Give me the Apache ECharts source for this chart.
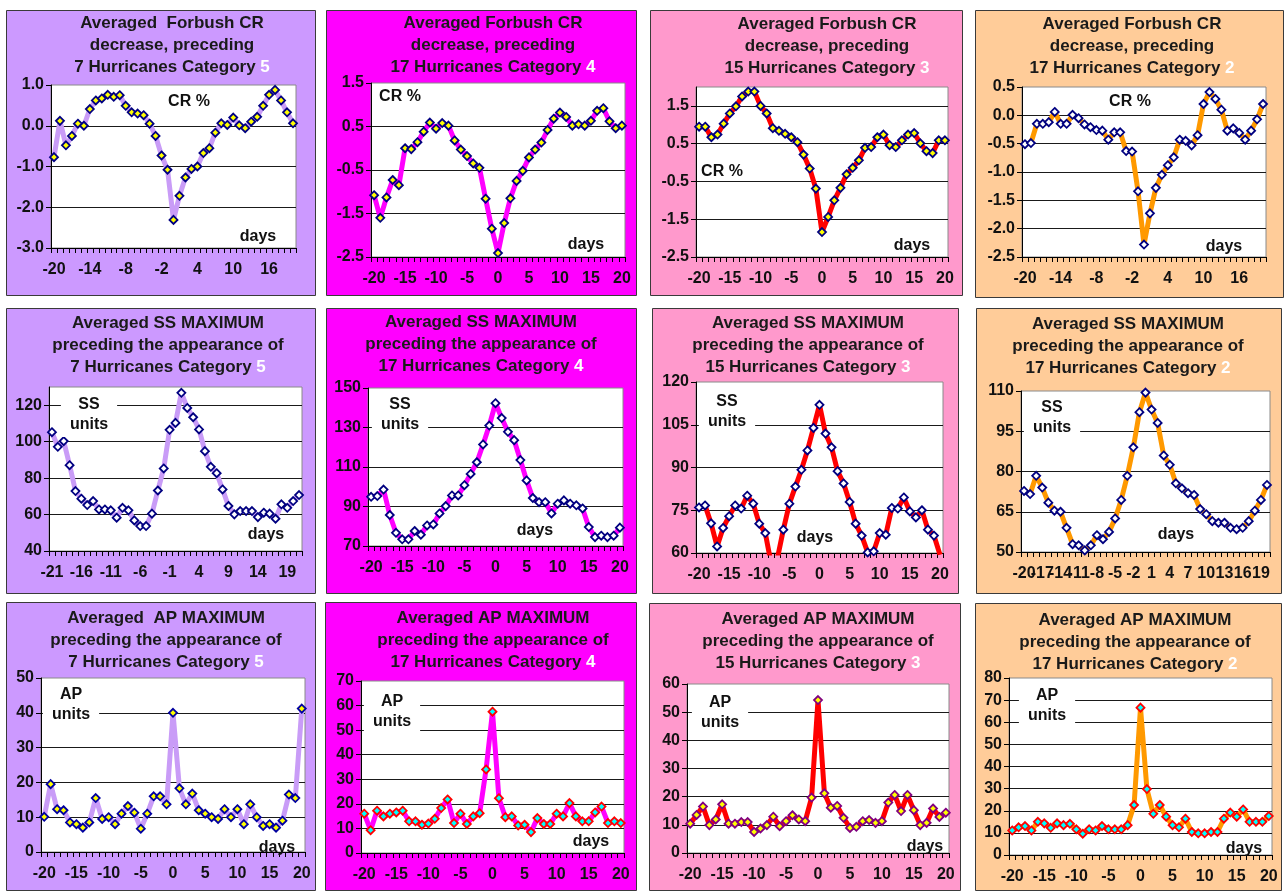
<!DOCTYPE html>
<html>
<head>
<meta charset="utf-8">
<script src="https://cdn.jsdelivr.net/npm/echarts@6/dist/echarts.min.js"></script>
<style>
html, body { margin: 0; padding: 0; background: #ffffff; }
#chart { width: 1285px; height: 893px; }
</style>
</head>
<body>
<div id="chart"></div>
<script>
// Day axes: days relative to hurricane appearance
const daysA = [-20,-19,-18,-17,-16,-15,-14,-13,-12,-11,-10,-9,-8,-7,-6,-5,-4,-3,-2,-1,0,1,2,3,4,5,6,7,8,9,10,11,12,13,14,15,16,17,18,19,20];
const daysB = [-21,-20,-19,-18,-17,-16,-15,-14,-13,-12,-11,-10,-9,-8,-7,-6,-5,-4,-3,-2,-1,0,1,2,3,4,5,6,7,8,9,10,11,12,13,14,15,16,17,18,19,20,21];

// Averaged Forbush CR decrease (%)
const crCat5 = [-0.77,0.12,-0.48,-0.25,0.05,0.0,0.41,0.62,0.67,0.76,0.71,0.75,0.49,0.33,0.30,0.26,0.05,-0.25,-0.73,-1.08,-2.31,-1.72,-1.27,-1.06,-1.0,-0.67,-0.55,-0.17,0.06,0.02,0.2,0.01,-0.06,0.1,0.22,0.49,0.76,0.88,0.62,0.33,0.06];
const crCat4 = [-1.08,-1.60,-1.13,-0.73,-0.85,0.0,-0.02,0.14,0.38,0.59,0.45,0.58,0.52,0.18,-0.03,-0.18,-0.35,-0.45,-1.16,-1.85,-2.41,-1.72,-1.15,-0.75,-0.52,-0.21,-0.03,0.13,0.42,0.68,0.82,0.72,0.52,0.55,0.52,0.63,0.86,0.92,0.62,0.46,0.52];
const crCat3 = [0.95,0.95,0.67,0.74,1.03,1.30,1.49,1.75,1.88,1.88,1.50,1.30,0.91,0.84,0.76,0.67,0.54,0.21,-0.16,-0.69,-1.84,-1.44,-1.0,-0.67,-0.31,-0.14,0.06,0.39,0.41,0.67,0.74,0.46,0.41,0.59,0.74,0.78,0.51,0.30,0.25,0.59,0.59];
const crCat2 = [-0.51,-0.49,-0.15,-0.15,-0.12,0.06,-0.15,-0.15,0.01,-0.05,-0.16,-0.21,-0.26,-0.27,-0.43,-0.30,-0.30,-0.63,-0.64,-1.34,-2.28,-1.73,-1.28,-1.05,-0.88,-0.74,-0.43,-0.45,-0.53,-0.35,0.2,0.41,0.29,0.1,-0.27,-0.23,-0.31,-0.43,-0.27,-0.07,0.2];

// Averaged SS maximum (SS units)
const ssCat5 = [105.2,97.2,100.3,87.1,72.9,68.7,65.2,67.4,62.8,62.8,62.3,58.3,63.7,62.3,56.8,53.7,53.7,60.5,73.2,85.3,106.5,110.3,126.8,118.5,113.4,106.7,94.8,86.2,82.7,73.8,64.7,60.1,61.9,61.9,61.9,58.6,61.0,60.5,57.7,65.6,63.7,67.4,70.7];
const ssCat4 = [94.9,95.3,98.6,85.7,76.7,73.4,73.4,77.6,75.7,80.4,80.9,86.5,90.2,95.6,95.6,100.8,106.5,112.4,121.4,131.0,142.3,134.8,127.8,123.6,113.5,103.2,94.3,92.2,92.2,86.5,91.4,93.1,91.4,90.6,89.0,79.6,74.5,75.2,74.5,75.2,79.3];
const ssCat3 = [76.0,76.7,70.4,62.3,68.8,72.9,76.7,75.6,80.1,77.3,70.3,67.0,56.0,58.0,68.2,77.3,83.3,89.2,96.0,103.9,112.0,101.9,97.1,88.7,84.4,77.9,70.3,66.1,60.2,60.6,67.0,66.4,75.8,75.6,79.5,74.6,72.5,75.0,68.2,66.1,59.4];
const ssCat2 = [72.75,71.6,78.4,74.0,68.4,65.4,65.0,59.0,52.9,52.5,50.6,52.5,56.25,54.75,57.5,62.5,69.4,78.4,89.0,102.1,109.4,103.1,98.1,86.0,82.5,75.6,73.75,71.9,71.25,66.0,64.1,61.5,60.9,60.9,59.0,58.5,59.0,61.5,65.4,69.4,75.0];

// Averaged AP maximum (AP units)
const apCat5 = [10.1,19.5,12.3,12.0,8.5,8.0,7.0,8.5,15.5,9.5,10.0,8.0,11.0,13.2,11.3,6.7,11.0,16.0,16.0,13.7,40.0,18.3,13.7,16.8,12.0,11.0,10.0,9.5,12.3,10.0,12.3,8.0,13.7,10.0,7.5,8.0,7.0,9.0,16.5,15.5,41.2];
const apCat4 = [16.0,9.3,17.2,14.9,16.0,16.5,17.2,12.9,12.9,11.5,12.0,13.9,18.3,21.8,12.2,16.0,11.8,14.9,16.2,34.0,57.5,22.3,14.6,14.9,11.2,11.5,8.5,14.2,11.8,11.8,16.0,14.9,20.3,14.9,12.9,12.9,16.5,18.9,12.2,12.9,12.2];
const apCat3 = [10.4,13.5,16.5,9.9,11.9,17.3,10.4,10.4,11.0,11.0,7.5,8.7,9.9,12.9,9.5,11.3,13.4,11.9,11.3,19.7,54.3,21.2,16.1,16.7,12.5,8.9,9.3,11.3,11.7,10.7,11.3,17.9,20.6,14.9,20.6,15.2,9.9,10.7,15.8,12.8,14.3];
const apCat2 = [11.1,12.5,13.1,11.1,15.0,14.3,12.3,14.3,13.5,14.1,11.6,9.6,11.6,11.1,13.1,11.6,11.6,11.6,13.5,22.6,66.6,29.8,18.6,22.6,17.3,13.5,12.5,16.4,10.4,9.8,9.8,10.4,10.4,16.4,19.2,17.3,20.6,15.0,15.0,15.0,17.6];

// Value-axis ranges: [min, max, interval, decimals]
const crCat5Axis = [-3, 1, 1, 1];
const crCat4Axis = [-2.5, 1.5, 1, 1];
const crCat3Axis = [-2.5, 2, 1, 1];
const crCat2Axis = [-2.5, 0.5, 0.5, 1];
const ssCat5Axis = [40, 130, 20, 0];
const ssCat4Axis = [70, 150, 20, 0];
const ssCat3Axis = [60, 120, 15, 0];
const ssCat2Axis = [50, 110, 15, 0];
const apCat5Axis = [0, 50, 10, 0];
const apCat4Axis = [0, 70, 10, 0];
const apCat3Axis = [0, 60, 10, 0];
const apCat2Axis = [0, 80, 10, 0];

// Titles
const crTitle = ['Averaged Forbush CR', 'decrease, preceding'];
const ssTitle = ['Averaged SS MAXIMUM', 'preceding the appearance of'];
const apTitle = ['Averaged AP MAXIMUM', 'preceding the appearance of'];
const hurricanes = ['7 Hurricanes Category ', '17 Hurricanes Category ', '15 Hurricanes Category ', '17 Hurricanes Category '];
const categories = ['5', '4', '3', '2'];

// Colour scheme per hurricane category
const BG = ['#cc99ff', '#ff00ff', '#ff99cc', '#ffcc99'];
const LINE = ['#c99cf7', '#ff00ff', '#ff0000', '#ff9900'];

const FONT = '"Liberation Sans", Arial, Helvetica, sans-serif';

const panels = [
  // row 1: CR
  { box:[6,10,309,285], grid:[51,85,245,163], col:0, title:['Averaged  Forbush CR', crTitle[1]], tx:172, ty:12,
    cats:daysA, data:crCat5, axis:crCat5Axis, every:6, fill:'#ffff00', edge:'#000080',
    unit:'CR %', ux:189, uy:102, ubg:false, dx:258, dy:237 },
  { box:[326,10,310,285], grid:[371,83,254,174], col:1, title:crTitle, tx:493, ty:12,
    cats:daysA, data:crCat4, axis:crCat4Axis, every:5, fill:'#ffff00', edge:'#000080',
    unit:'CR %', ux:400, uy:97, ubg:false, dx:586, dy:245 },
  { box:[650,10,312,285], grid:[696,87,252,170], col:2, title:crTitle, tx:827, ty:13,
    cats:daysA, data:crCat3, axis:crCat3Axis, every:5, fill:'#ffff00', edge:'#000080',
    unit:'CR %', ux:722, uy:172, ubg:false, dx:912, dy:246 },
  { box:[975,10,308,287], grid:[1022,87,244,170], col:3, title:crTitle, tx:1132, ty:13,
    cats:daysA, data:crCat2, axis:crCat2Axis, every:6, fill:'#ffffff', edge:'#000080',
    unit:'CR %', ux:1130, uy:102, ubg:false, dx:1224, dy:247 },
  // row 2: SS
  { box:[6,308,309,285], grid:[49,387,253,164], col:0, title:ssTitle, tx:168, ty:312,
    cats:daysB, data:ssCat5, axis:ssCat5Axis, every:5, fill:'#ffffff', edge:'#000080',
    unit:'SS\nunits', ux:89, uy:415, ubg:true, dx:266, dy:535 },
  { box:[326,308,310,285], grid:[368,388,255,158], col:1, title:ssTitle, tx:481, ty:311,
    cats:daysA, data:ssCat4, axis:ssCat4Axis, every:5, fill:'#ffffff', edge:'#000080',
    unit:'SS\nunits', ux:400, uy:415, ubg:true, dx:535, dy:531 },
  { box:[652,308,306,285], grid:[696,382,247,171], col:2, title:ssTitle, tx:808, ty:312,
    cats:daysA, data:ssCat3, axis:ssCat3Axis, every:5, fill:'#ffffff', edge:'#000080',
    unit:'SS\nunits', ux:727, uy:412, ubg:true, dx:815, dy:538 },
  { box:[976,308,305,285], grid:[1021,391,249,161], col:3, title:ssTitle, tx:1128, ty:313,
    cats:daysA, data:ssCat2, axis:ssCat2Axis, every:3, fill:'#ffffff', edge:'#000080',
    unit:'SS\nunits', ux:1052, uy:418, ubg:true, dx:1176, dy:535 },
  // row 3: AP
  { box:[6,602,309,288], grid:[41,678,264,174], col:0, title:['Averaged  AP MAXIMUM', apTitle[1]], tx:166, ty:607,
    cats:daysA, data:apCat5, axis:apCat5Axis, every:5, fill:'#ffff00', edge:'#0000a0',
    unit:'AP\nunits', ux:71, uy:705, ubg:true, dx:277, dy:848 },
  { box:[325,602,311,288], grid:[361,681,263,172], col:1, title:apTitle, tx:493, ty:607,
    cats:daysA, data:apCat4, axis:apCat4Axis, every:5, fill:'#00ffff', edge:'#ff0000',
    unit:'AP\nunits', ux:392, uy:712, ubg:true, dx:591, dy:842 },
  { box:[649,603,311,287], grid:[687,684,262,169], col:2, title:apTitle, tx:818, ty:608,
    cats:daysA, data:apCat3, axis:apCat3Axis, every:5, fill:'#ffff00', edge:'#800080',
    unit:'AP\nunits', ux:720, uy:713, ubg:true, dx:925, dy:847 },
  { box:[975,603,306,287], grid:[1009,678,263,177], col:3, title:apTitle, tx:1135, ty:609,
    cats:daysA, data:apCat2, axis:apCat2Axis, every:5, fill:'#00ffff', edge:'#ff0000',
    unit:'AP\nunits', ux:1047, uy:706, ubg:true, dx:1244, dy:849 }
];

const grids = [], xAxes = [], yAxes = [], series = [], graphics = [];

panels.forEach(function (p, i) {
  const [ymin, ymax, step, dec] = p.axis;

  // panel background and frame
  graphics.push({
    type: 'rect', z: -10, silent: true,
    shape: { x: p.box[0] + 0.5, y: p.box[1] + 0.5, width: p.box[2], height: p.box[3] },
    style: { fill: BG[p.col], stroke: '#3a3a3a', lineWidth: 1 }
  });

  // three-line title with the category number in white
  graphics.push({
    type: 'text', z: 20, silent: true, x: p.tx, y: p.ty,
    style: {
      text: '{a|' + p.title[0] + '}\n{a|' + p.title[1] + '}\n{a|' + hurricanes[p.col] + '}{w|' + categories[p.col] + '}',
      align: 'center', textAlign: 'center', verticalAlign: 'top', textVerticalAlign: 'top',
      rich: {
        a: { fontFamily: FONT, fontWeight: 'bold', fontSize: 17, fill: '#1a1a1a', lineHeight: 22 },
        w: { fontFamily: FONT, fontWeight: 'bold', fontSize: 17, fill: '#ffffff', lineHeight: 22 }
      }
    }
  });

  // quantity label inside the plot
  const unitStyle = {
    text: p.unit, font: 'bold 16px ' + FONT, fill: '#111111',
    align: 'center', textAlign: 'center', verticalAlign: 'middle', textVerticalAlign: 'middle',
    lineHeight: 20
  };
  if (p.ubg) { unitStyle.backgroundColor = '#ffffff'; unitStyle.padding = [2, 9, 2, 9]; }
  graphics.push({ type: 'text', z: 20, silent: true, x: p.ux, y: p.uy, style: unitStyle });

  // "days" label
  graphics.push({
    type: 'text', z: 20, silent: true, x: p.dx, y: p.dy,
    style: { text: 'days', font: 'bold 16px ' + FONT, fill: '#111111',
      align: 'center', textAlign: 'center', verticalAlign: 'middle', textVerticalAlign: 'middle' }
  });

  grids.push({
    left: p.grid[0], top: p.grid[1], width: p.grid[2], height: p.grid[3],
    show: true, backgroundColor: '#ffffff', borderColor: '#8a8a8a', borderWidth: 1,
    containLabel: false, outerBoundsMode: 'none'
  });

  // every category gets a label slot; only every n-th day is written,
  // and neighbouring labels are allowed to overlap
  const every = p.every;
  xAxes.push({
    gridIndex: i, type: 'category', data: p.cats, boundaryGap: true,
    axisLine: { show: true, onZero: false, lineStyle: { color: '#000000', width: 1 } },
    axisTick: { show: true, interval: 0, length: 5, inside: false, lineStyle: { color: '#000000', width: 1 } },
    axisLabel: {
      interval: 0, margin: 14, color: '#111111', fontFamily: FONT, fontWeight: 'bold', fontSize: 16,
      hideOverlap: false,
      formatter: function (v, idx) { return idx % every === 0 ? String(v) : ''; }
    },
    splitLine: { show: false }
  });

  const maxAligned = Math.abs(((ymax - ymin) / step) - Math.round((ymax - ymin) / step)) < 1e-9;
  yAxes.push({
    gridIndex: i, type: 'value', min: ymin, max: ymax, interval: step,
    axisLine: { show: true, onZero: false, lineStyle: { color: '#000000', width: 1 } },
    axisTick: { show: true, length: 5, inside: false, lineStyle: { color: '#000000', width: 1 } },
    axisLabel: {
      margin: 7, color: '#111111', fontFamily: FONT, fontWeight: 'bold', fontSize: 16,
      showMaxLabel: maxAligned, showMinLabel: true,
      formatter: function (v) { return v.toFixed(dec); }
    },
    splitLine: { show: true, showMinLine: false, showMaxLine: false, lineStyle: { color: '#1a1a1a', width: 1 } }
  });

  series.push({
    type: 'line', xAxisIndex: i, yAxisIndex: i, data: p.data,
    symbol: 'diamond', symbolSize: 8, showSymbol: true, showAllSymbol: true,
    lineStyle: { color: LINE[p.col], width: 5 },
    itemStyle: { color: p.fill, borderColor: p.edge, borderWidth: 1.8 },
    emphasis: { disabled: true }, clip: true, z: 3
  });
});

const chart = echarts.init(document.getElementById('chart'), null, { renderer: 'canvas' });
chart.setOption({
  backgroundColor: '#ffffff',
  animation: false,
  tooltip: { show: false },
  grid: grids,
  xAxis: xAxes,
  yAxis: yAxes,
  series: series,
  graphic: { elements: graphics }
});
</script>
</body>
</html>
